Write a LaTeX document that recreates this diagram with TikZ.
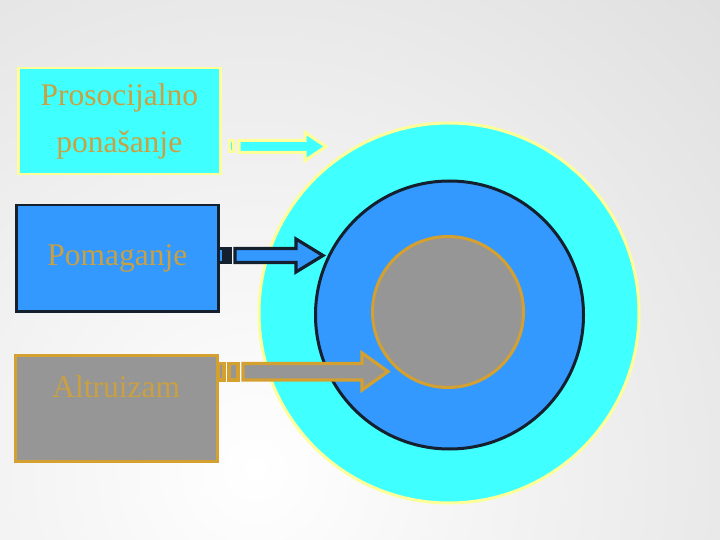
\documentclass[tikz,border=0pt]{standalone}
\usepackage{fontspec}
\setmainfont{Liberation Serif}
\definecolor{cyanF}{HTML}{40FFFF}
\definecolor{blueF}{HTML}{3399FF}
\definecolor{grayF}{HTML}{969696}
\definecolor{goldL}{HTML}{D4A030}
\definecolor{goldT}{HTML}{C9A042}
\definecolor{yellowL}{HTML}{FFFF99}
\definecolor{navyL}{HTML}{14202E}
\definecolor{bgG}{HTML}{DCDCDC}
\begin{document}
\begin{tikzpicture}[x=1pt,y=-1pt,
  box/.style={draw,line width=2.5pt,minimum width=202pt,minimum height=106pt,inner sep=0pt,anchor=north west,
    font=\fontsize{31.5}{47}\selectfont,text=goldT,align=center},
  cyanstyle/.style={fill=cyanF,draw=yellowL},
  bluestyle/.style={fill=blueF,draw=navyL},
  graystyle/.style={fill=grayF,draw=goldL},
  arr/.style={line width=3.2pt,line join=miter}]
\useasboundingbox (0,0) rectangle (720,540);
\begin{scope}
\clip (0,0) rectangle (720,540);
\shade[inner color=white,outer color=bgG] (255,470) circle (740);
\end{scope}
% circles
\node[circle,cyanstyle,line width=3pt,minimum size=380pt,inner sep=0pt] (outer) at (449,313) {};
\node[circle,bluestyle,line width=3pt,minimum size=268pt,inner sep=0pt] (middle) at (449.5,315) {};
\node[circle,graystyle,line width=3pt,minimum size=151pt,inner sep=0pt] (inner) at (448,312) {};
% boxes
\node[box,cyanstyle] (b1) at (17,67) {Prosocijalno\\ponašanje};
\node[box,bluestyle] (b2) at (15,204) {Pomaganje};
\node[box,graystyle,text height=42pt,text depth=64pt] (b3) at (14,354) {Altruizam};
% arrows
\coordinate (t1) at (326,146.5);
\coordinate (t2) at (323,255.5);
\coordinate (t3) at (388,371.5);
\draw[arr,cyanstyle,line width=3pt] (229,141) rectangle (233,152);
\draw[arr,cyanstyle,line width=3pt] (239,140.5) -- (305,140.5) -- (305,132.5) -- (t1) -- (305,160.5) -- (305,152.5) -- (239,152.5) -- cycle;
\draw[arr,bluestyle] (218.5,248.5) rectangle (223.5,262.5);
\draw[arr,bluestyle] (227,248.5) rectangle (230.5,262.5);
\draw[arr,bluestyle] (235,248.5) -- (296,248.5) -- (296,239) -- (t2) -- (296,272) -- (296,262.5) -- (235,262.5) -- cycle;
\draw[arr,graystyle] (218,363.5) rectangle (224,380);
\draw[arr,graystyle] (229,363.5) rectangle (238,380);
\draw[arr,graystyle] (243,363.5) -- (362,363.5) -- (362,353) -- (t3) -- (362,390) -- (362,380) -- (243,380) -- cycle;
\end{tikzpicture}
\end{document}
